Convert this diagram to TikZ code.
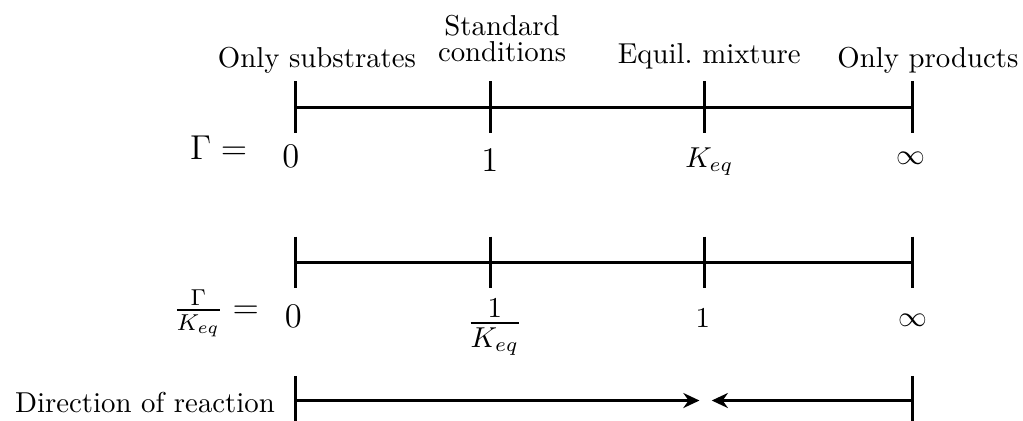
\documentclass[tikz,border=0pt]{standalone}
\usepackage{amsmath}
\usetikzlibrary{arrows.meta}
\begin{document}
\begin{tikzpicture}[
    >={Stealth[length=5.6pt,width=5.2pt]},
    axisline/.style={line width=1pt},
    tickmark/.style={line width=1pt},
    val/.style={anchor=base, inner sep=0pt}
]
    \useasboundingbox (0,0) rectangle (12.49,-5.14);

    % Gamma-Achse
    \draw[axisline] (3.61,-1.31) -- (11.14,-1.31);
    \foreach \x in {3.61,5.99,8.60,11.14}
        \draw[tickmark] (\x,-0.99) -- (\x,-1.62);

    % Beschriftungen oben
    \node[val] (lsub) at (3.87,-0.83) {Only substrates};
    \node[align=center, anchor=south, inner sep=0pt] (lstd) at (6.13,-0.757) {Standard\\[-3pt]conditions};
    \node[val] (leq) at (8.66,-0.77) {Equil.\ mixture};
    \node[val] (lprod) at (11.33,-0.83) {Only products};

    % Werte von Gamma
    \node[val, font=\large] (g1) at (2.67,-1.95) {$\Gamma =$};
    \node[val, font=\large] (a0) at (3.55,-2.04) {$0$};
    \node[val, font=\large] (a1) at (5.98,-2.10) {$1$};
    \node[val] (ak) at (8.66,-2.04) {$K_{eq}$};
    \node[val] (ainf) at (11.12,-2.01) {$\infty$};

    % Gamma/Keq-Achse
    \draw[axisline] (3.61,-3.21) -- (11.14,-3.21);
    \foreach \x in {3.61,5.99,8.60,11.14}
        \draw[tickmark] (\x,-2.89) -- (\x,-3.52);

    % Werte von Gamma/Keq
    \node[val, font=\large] (g2) at (2.64,-3.89) {$\frac{\Gamma}{K_{eq}} =$};
    \node[val, font=\large] (b0) at (3.58,-4.00) {$0$};
    \node[val, font=\Large] (bk) at (6.04,-4.07) {$\frac{1}{K_{eq}}$};
    \node[val] (b1) at (8.58,-4.00) {$1$};
    \node[val] (binf) at (11.15,-3.99) {$\infty$};

    % Richtung der Reaktion
    \node[val] (dir) at (1.77,-5.04) {Direction of reaction};
    \coordinate (rs) at (3.61,-4.89);
    \coordinate (re) at (11.14,-4.89);
    \coordinate (rml) at (8.54,-4.89);
    \coordinate (rmr) at (8.69,-4.89);
    \draw[tickmark] (3.61,-4.59) -- (3.61,-5.25);
    \draw[tickmark] (11.14,-4.59) -- (11.14,-5.25);
    \draw[axisline, ->] (rs) -- (rml);
    \draw[axisline, ->] (re) -- (rmr);
\end{tikzpicture}
\end{document}
